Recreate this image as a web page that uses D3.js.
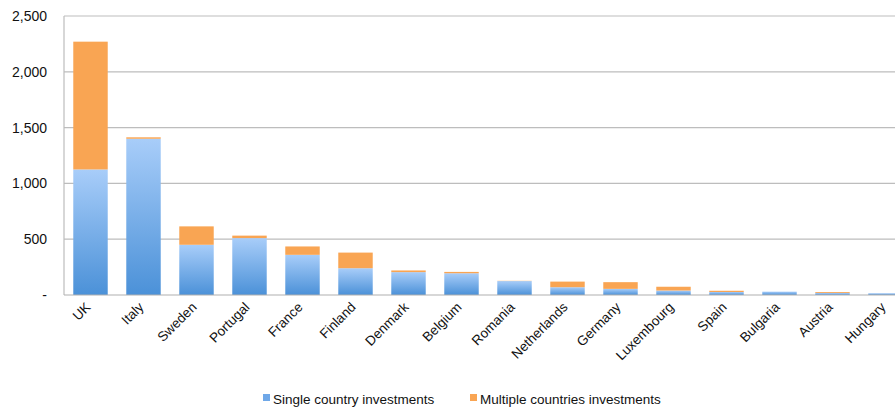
<!DOCTYPE html>
<html>
<head>
<meta charset="utf-8">
<script src="https://cdn.jsdelivr.net/npm/d3@7"></script>
<style>
  html, body { margin: 0; padding: 0; background: #fff; }
  svg { display: block; }
  text { font-family: "Liberation Sans", Arial, sans-serif; fill: #111; }
</style>
</head>
<body>
<svg id="chart" width="895" height="408"></svg>
<script>
// Investments by country, split into single-country and multi-country deals
const countries = ["UK", "Italy", "Sweden", "Portugal", "France", "Finland", "Denmark", "Belgium",
  "Romania", "Netherlands", "Germany", "Luxembourg", "Spain", "Bulgaria", "Austria", "Hungary"];
const singleCountry = [1125, 1400, 450, 510, 360, 240, 205, 195, 125, 70, 55, 40, 27, 30, 18, 16];
const multipleCountries = [1145, 13, 165, 22, 75, 140, 15, 12, 2, 50, 60, 34, 11, 0, 8, 0];
const yTicks = [0, 500, 1000, 1500, 2000, 2500];
const seriesNames = ["Single country investments", "Multiple countries investments"];

const svg = d3.select("#chart");
const plotLeft = 64, plotRight = 912, plotTop = 16, plotBottom = 295;

const x = d3.scaleBand().domain(countries).range([plotLeft, plotRight])
  .paddingInner(0.35).paddingOuter(0.175);
const y = d3.scaleLinear().domain([0, 2500]).range([plotBottom, plotTop]);

// gradient for the single-country segments
const defs = svg.append("defs");
const grad = defs.append("linearGradient").attr("id", "blueGrad")
  .attr("x1", 0).attr("y1", 0).attr("x2", 0).attr("y2", 1);
grad.append("stop").attr("offset", "0%").attr("stop-color", "#a8cdf9");
grad.append("stop").attr("offset", "100%").attr("stop-color", "#4b91d8");

// horizontal gridlines
svg.append("g").selectAll("line").data(yTicks.filter(d => d > 0)).join("line")
  .attr("x1", plotLeft).attr("x2", 895)
  .attr("y1", d => y(d)).attr("y2", d => y(d))
  .attr("stroke", "#bdbdbd").attr("stroke-width", 1.2);

// y axis labels
const fmt = d3.format(",");
svg.append("g").selectAll("text").data(yTicks).join("text")
  .attr("x", 47).attr("y", d => y(d) + 5)
  .attr("text-anchor", "end")
  .style("font-size", "14px")
  .text(d => d === 0 ? "-" : fmt(d));

// stacked bars
const stackData = countries.map((c, i) => ({ c, s: singleCountry[i], m: multipleCountries[i] }));
const bars = svg.append("g");
bars.selectAll("rect.single").data(stackData).join("rect").attr("class", "single")
  .attr("x", d => x(d.c)).attr("width", x.bandwidth())
  .attr("y", d => y(d.s)).attr("height", d => y(0) - y(d.s))
  .attr("fill", "url(#blueGrad)");
bars.selectAll("rect.multi").data(stackData.filter(d => d.m > 0)).join("rect").attr("class", "multi")
  .attr("x", d => x(d.c)).attr("width", x.bandwidth())
  .attr("y", d => y(d.s + d.m)).attr("height", d => y(d.s) - y(d.s + d.m))
  .attr("fill", "#f9a553");

// axes frame: left edge and baseline
svg.append("line").attr("x1", plotLeft).attr("x2", plotLeft).attr("y1", plotTop).attr("y2", plotBottom)
  .attr("stroke", "#bdbdbd").attr("stroke-width", 1.2);
svg.append("line").attr("x1", plotLeft).attr("x2", 895).attr("y1", plotBottom).attr("y2", plotBottom)
  .attr("stroke", "#b0b0b0").attr("stroke-width", 1.2);

// rotated category labels
svg.append("g").selectAll("text").data(countries).join("text")
  .attr("transform", d => `translate(${x(d) + x.bandwidth() / 2 + 1},${plotBottom + 13}) rotate(-45)`)
  .attr("text-anchor", "end")
  .style("font-size", "13.5px")
  .text(d => d);

// legend
const legend = svg.append("g");
const legendItems = [
  { name: seriesNames[0], color: "#6fa8e8", x: 263 },
  { name: seriesNames[1], color: "#f9a553", x: 470 }
];
legendItems.forEach(it => {
  legend.append("rect").attr("x", it.x).attr("y", 394).attr("width", 7).attr("height", 7)
    .attr("fill", it.color);
  legend.append("text").attr("x", it.x + 10).attr("y", 403.5)
    .style("font-size", "13.5px").text(it.name);
});
</script>
</body>
</html>
